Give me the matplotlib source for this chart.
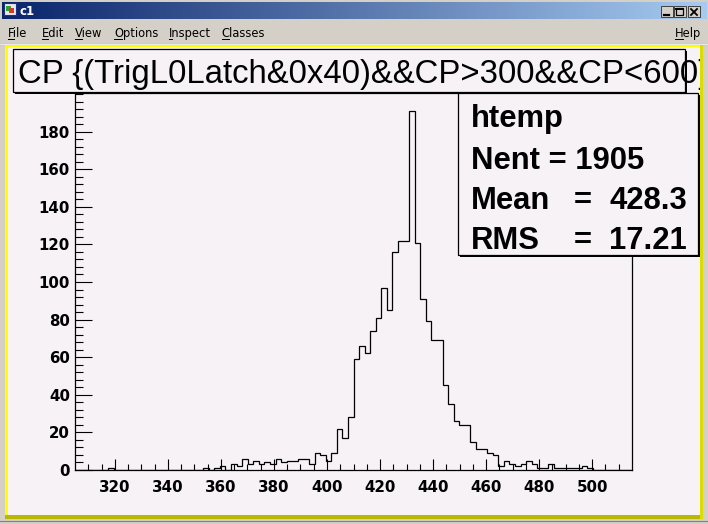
import numpy as np
import matplotlib
matplotlib.use('Agg')
import matplotlib.pyplot as plt
from matplotlib.patches import Rectangle
from matplotlib.lines import Line2D

# ---------------- data ----------------
x_min, x_max, n_bins = 305.0, 515.0, 100
counts = [0, 0, 0, 0, 0, 0, 1, 0, 0, 0,
          0, 0, 0, 0, 0, 0, 0, 0, 0, 0,
          0, 0, 0, 1, 0, 1, 2, 0, 3, 2,
          6, 3, 5, 3, 4, 3, 6, 4, 5, 5,
          6, 6, 3, 9, 8, 5, 9, 22, 17, 28,
          59, 66, 62, 74, 81, 97, 85, 116, 122, 122,
          191, 121, 91, 79, 69, 69, 45, 35, 26, 24,
          24, 15, 11, 11, 9, 8, 2, 5, 3, 2,
          3, 5, 3, 1, 1, 3, 1, 1, 1, 1,
          1, 2, 1, 0, 0, 0, 0, 0, 0, 0]
x_major = list(range(320, 501, 20))
x_minor = list(range(310, 515, 5))
y_major = list(range(0, 181, 20))
y_minor = list(range(0, 201, 4))
title_text = "CP {(TrigL0Latch&0x40)&&CP>300&&CP<600}"
stats_name = "htemp"
stats_labels = ["Mean", "RMS"]
stats_values = ["428.3", "17.21"]
stats_entries = "Nent = 1905"
menu_items = ["File", "Edit", "View", "Options", "Inspect", "Classes"]
window_title = "c1"

# ---------------- figure ----------------
W, H = 708, 524
fig = plt.figure(figsize=(W / 100, H / 100), dpi=100)
WIN_GRAY = '#d4d0c8'
BG = '#f6f2f6'
fig.patch.set_facecolor(WIN_GRAY)


def frect(x0, y0, x1, y1, **kw):
    fig.add_artist(Rectangle((x0 / W, 1 - y1 / H), (x1 - x0) / W, (y1 - y0) / H,
                             transform=fig.transFigure, **kw))


def fline(xs, ys, **kw):
    fig.add_artist(Line2D([x / W for x in xs], [1 - y / H for y in ys],
                          transform=fig.transFigure, **kw))


def ftext(x, y, s, **kw):
    fig.text(x / W, 1 - y / H, s, **kw)


# title bar gradient
tax = fig.add_axes([2 / W, 1 - 19 / H, 704 / W, 17 / H])
c0 = np.array([10, 36, 106]) / 255.0
c1 = np.array([166, 202, 240]) / 255.0
t = np.linspace(0, 1, 300)[None, :, None]
grad = c0[None, None, :] * (1 - t) + c1[None, None, :] * t
tax.imshow(grad, aspect='auto', extent=[0, 1, 0, 1])
tax.set_axis_off()

# window icon
frect(4, 3, 16, 15, facecolor='#e8e8f0', edgecolor='#203080', linewidth=0.8, zorder=5)
frect(6, 6, 11, 11, facecolor='#30a030', edgecolor='none', zorder=6)
frect(9, 8, 14, 13, facecolor='#d04020', edgecolor='none', zorder=6)
ftext(20, 15, window_title, color='white', fontsize=8.5, fontweight='bold',
      family='DejaVu Sans', va='baseline', zorder=6)

# title buttons
for bx0, bx1 in [(661, 673), (673.5, 685.5), (688, 700)]:
    frect(bx0, 6.5, bx1, 17, facecolor=WIN_GRAY, edgecolor='#404040', linewidth=0.7, zorder=5)
fline([664, 669], [14.5, 14.5], color='black', linewidth=1.6, zorder=6)
frect(676, 8.5, 683, 15, facecolor='none', edgecolor='black', linewidth=0.9, zorder=6)
fline([676, 683], [9.2, 9.2], color='black', linewidth=1.4, zorder=6)
fline([691, 697], [9, 15], color='black', linewidth=1.3, zorder=6)
fline([691, 697], [15, 9], color='black', linewidth=1.3, zorder=6)

# menu bar
menu_x = [8.3, 41.7, 75, 114.3, 169.3, 221.7]
under_w = [6, 6.5, 7, 8, 2.5, 7.5]
for mx, name, uw in zip(menu_x, menu_items, under_w):
    ftext(mx, 37, name, fontsize=8.3, family='DejaVu Sans', va='baseline', color='black')
    fline([mx, mx + uw], [39, 39], color='black', linewidth=0.7)
ftext(675, 37, "Help", fontsize=8.3, family='DejaVu Sans', va='baseline', color='black')
fline([675, 683], [39, 39], color='black', linewidth=0.7)
fline([0, 708], [43.5, 43.5], color='#808080', linewidth=0.8)
fline([0, 708], [44.3, 44.3], color='white', linewidth=0.6)

# canvas border
frect(4.5, 44.5, 703, 519, facecolor='#ffff00', edgecolor='none')
frect(4.5, 515, 703, 519, facecolor='#b8b800', edgecolor='none')
frect(699.5, 44.5, 703, 519, facecolor='#dcdc00', edgecolor='none')
fline([0, 708], [521, 521], color='#808080', linewidth=0.8)

# canvas background axes (pixel coordinates)
CX0, CY0, CX1, CY1 = 7.5, 47, 699.5, 515
cax = fig.add_axes([CX0 / W, 1 - CY1 / H, (CX1 - CX0) / W, (CY1 - CY0) / H], zorder=1)
cax.set_facecolor(BG)
cax.set_xlim(CX0, CX1)
cax.set_ylim(CY1, CY0)
cax.set_xticks([])
cax.set_yticks([])
for s in cax.spines.values():
    s.set_visible(False)

# main histogram axes
AX0, AY0, AX1, AY1 = 75, 93, 632, 470
ax = fig.add_axes([AX0 / W, 1 - AY1 / H, (AX1 - AX0) / W, (AY1 - AY0) / H], zorder=2)
ax.set_facecolor('none')
edges = np.linspace(x_min, x_max, n_bins + 1)
ax.stairs(counts, edges, color='black', linewidth=0.9)
ax.set_xlim(x_min, x_max)
ax.set_ylim(0, max(counts) * 1.05)
ax.set_xticks(x_major)
ax.set_xticks(x_minor, minor=True)
ax.set_yticks(y_major)
ax.set_yticks(y_minor, minor=True)
ax.tick_params(axis='x', which='major', direction='in', length=7.7, width=0.8,
               pad=7.3, labelsize=10.8, color='black')
ax.tick_params(axis='x', which='minor', direction='in', length=4.0, width=0.8, color='black')
ax.tick_params(axis='y', which='major', direction='in', length=12, width=0.8,
               pad=3.6, labelsize=10.8, color='black')
ax.tick_params(axis='y', which='minor', direction='in', length=6, width=0.8, color='black')
for lab in ax.get_xticklabels() + ax.get_yticklabels():
    lab.set_fontweight('bold')
    lab.set_family('DejaVu Sans')
for s in ax.spines.values():
    s.set_linewidth(0.9)
    s.set_color('black')

# overlay axes for title and stats boxes
oax = fig.add_axes([CX0 / W, 1 - CY1 / H, (CX1 - CX0) / W, (CY1 - CY0) / H], zorder=3)
oax.patch.set_alpha(0)
oax.set_xlim(CX0, CX1)
oax.set_ylim(CY1, CY0)
oax.set_xticks([])
oax.set_yticks([])
for s in oax.spines.values():
    s.set_visible(False)

# title pave
oax.add_patch(Rectangle((14.7, 51), 672.3, 42.7, facecolor='black', edgecolor='none', zorder=1))
oax.add_patch(Rectangle((12.7, 49), 672.3, 42.7, facecolor=BG, edgecolor='black',
                        linewidth=0.9, zorder=2))
oax.text(18, 82.7, title_text, fontsize=23.7, family='Liberation Sans', va='baseline',
         ha='left', color='black', clip_on=True, zorder=3)

# stats pave
oax.add_patch(Rectangle((460.3, 95.3), 239.7, 161.7, facecolor='black', edgecolor='none', zorder=1))
oax.add_patch(Rectangle((458.3, 93.3), 239.7, 161.7, facecolor=BG, edgecolor='black',
                        linewidth=0.9, zorder=2))
sfont = dict(fontsize=22.3, family='Liberation Sans', fontweight='bold', va='baseline',
             ha='left', color='black', zorder=3)
oax.text(470.7, 126.7, stats_name, **sfont)
oax.text(470.7, 169.3, stats_entries, **sfont)
for yb, lab, val in zip([209.3, 249.3], stats_labels, stats_values):
    oax.text(470.7, yb, lab, **sfont)
    oax.text(573.3, yb, "=", **sfont)
    oax.text(609.3, yb, val, **sfont)

fig.savefig('out.png', dpi=100, facecolor=fig.get_facecolor())
